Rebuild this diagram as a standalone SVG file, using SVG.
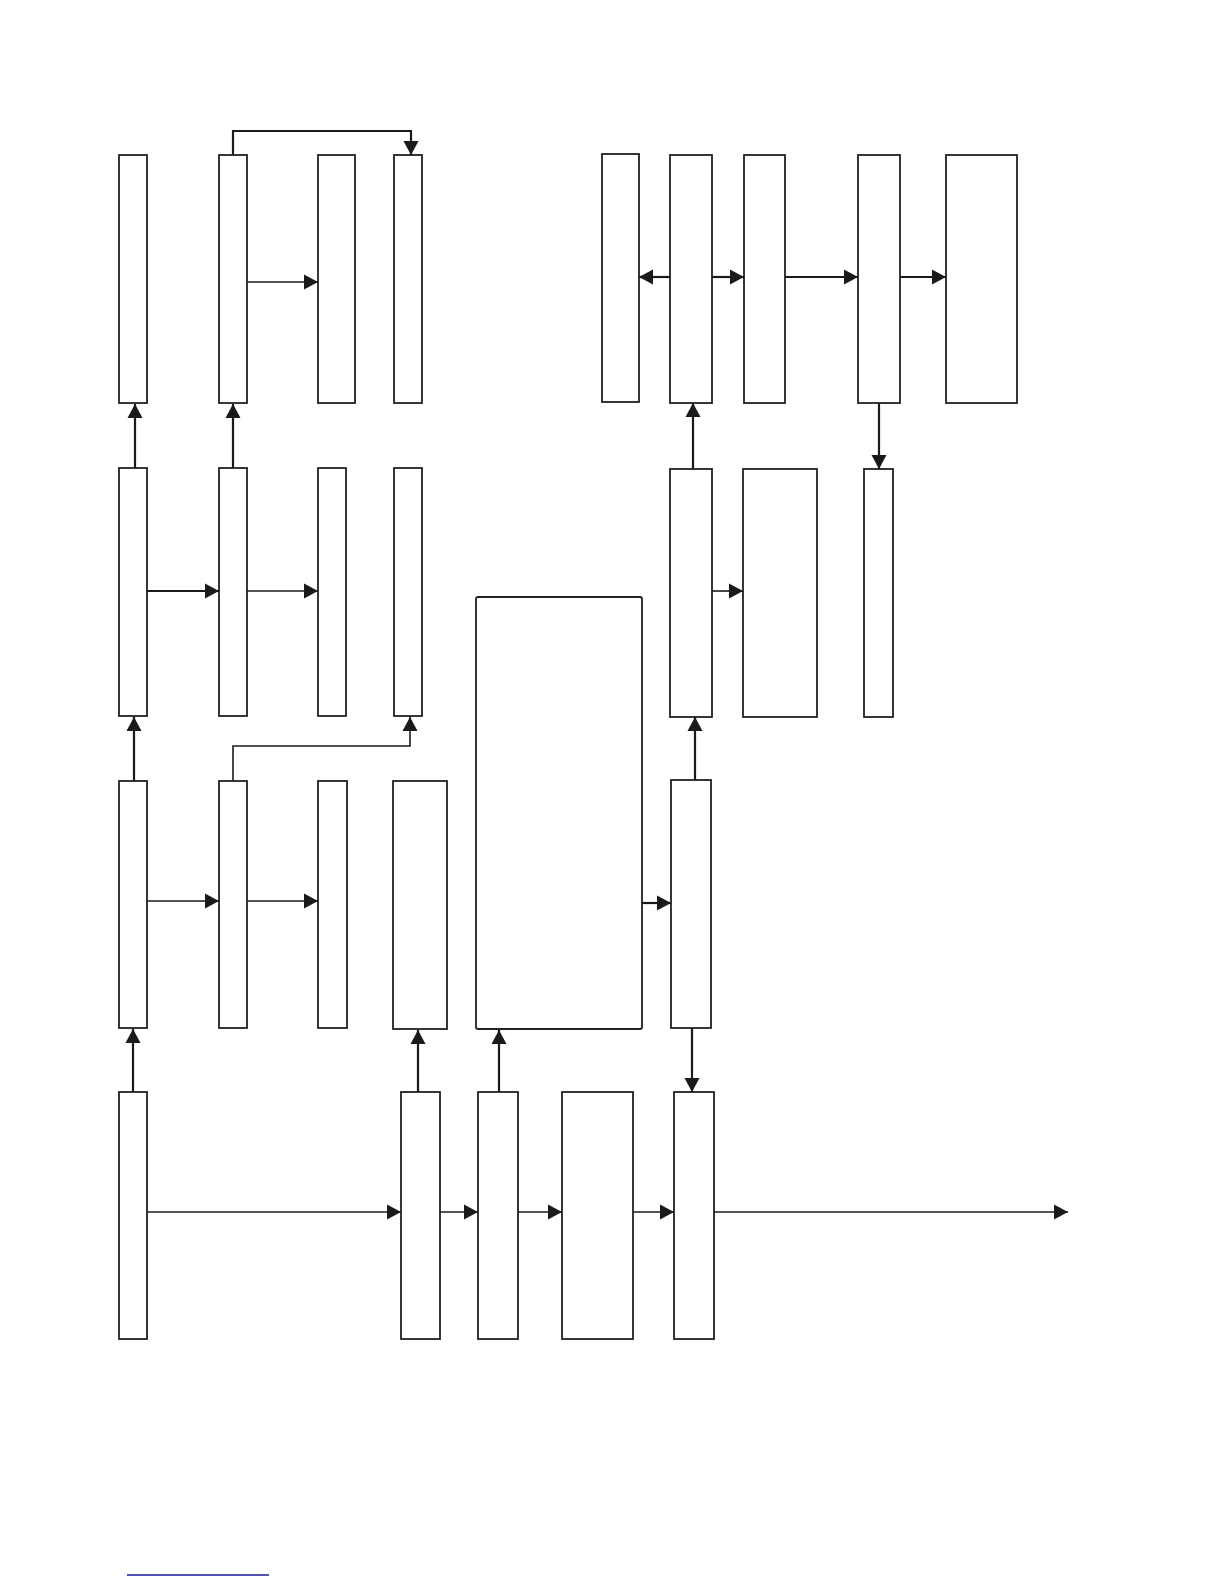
<svg xmlns="http://www.w3.org/2000/svg" width="1224" height="1584" viewBox="0 0 1224 1584">
<style>
.n{fill:#fff;stroke:#222;stroke-width:1.8}
.c{fill:none;stroke:#1a1a1a;stroke-width:1.6}
.t{stroke-width:2.2}
.h{marker-end:url(#ah)}
</style>
<defs>
<marker id="ah" markerUnits="userSpaceOnUse" markerWidth="15" markerHeight="16" refX="14" refY="7.5" orient="auto" viewBox="0 0 15 15">
<path d="M0,0 L14,7.5 L0,15 z" fill="#1a1a1a"/>
</marker>
</defs>
<rect width="1224" height="1584" fill="#fff"/>
<g id="nodes">
<g id="A1"><rect class="n" x="119" y="155" width="28" height="248"/></g>
<g id="B1"><rect class="n" x="219" y="155" width="28" height="248"/></g>
<g id="C1"><rect class="n" x="318" y="155" width="37" height="248"/></g>
<g id="D1"><rect class="n" x="394" y="155" width="28" height="248"/></g>
<g id="P1"><rect class="n" x="602" y="154" width="37" height="248"/></g>
<g id="F1"><rect class="n" x="670" y="155" width="42" height="248"/></g>
<g id="Q1"><rect class="n" x="744" y="155" width="41" height="248"/></g>
<g id="R1"><rect class="n" x="858" y="155" width="42" height="248"/></g>
<g id="S1"><rect class="n" x="946" y="155" width="71" height="248"/></g>
<g id="A2"><rect class="n" x="119" y="468" width="28" height="248"/></g>
<g id="B2"><rect class="n" x="219" y="468" width="28" height="248"/></g>
<g id="C2"><rect class="n" x="318" y="468" width="28" height="248"/></g>
<g id="D2"><rect class="n" x="394" y="468" width="28" height="248"/></g>
<g id="F2"><rect class="n" x="670" y="469" width="42" height="248"/></g>
<g id="G2"><rect class="n" x="743" y="469" width="74" height="248"/></g>
<g id="H2"><rect class="n" x="864" y="469" width="29" height="248"/></g>
<g id="A3"><rect class="n" x="119" y="781" width="28" height="247"/></g>
<g id="B3"><rect class="n" x="219" y="781" width="28" height="247"/></g>
<g id="C3"><rect class="n" x="318" y="781" width="29" height="247"/></g>
<g id="D3"><rect class="n" x="393" y="781" width="54" height="248"/></g>
<g id="E"><rect class="n" x="476" y="597" width="166" height="432" rx="2"/></g>
<g id="F3"><rect class="n" x="671" y="780" width="40" height="248"/></g>
<g id="A4"><rect class="n" x="119" y="1092" width="28" height="247"/></g>
<g id="I4"><rect class="n" x="401" y="1092" width="39" height="247"/></g>
<g id="J4"><rect class="n" x="478" y="1092" width="40" height="247"/></g>
<g id="K4"><rect class="n" x="562" y="1092" width="71" height="247"/></g>
<g id="F4"><rect class="n" x="674" y="1092" width="40" height="247"/></g>
</g>
<g id="connectors">
<path class="c t h" d="M133,1092 V1029"/>
<path class="c t h" d="M134,781 V717"/>
<path class="c t h" d="M135,468 V404"/>
<path class="c t h" d="M233,468 V404"/>
<path class="c t h" d="M233,155 V131 H411 V155"/>
<path class="c h" d="M247,282 H318"/>
<path class="c t h" d="M147,591 H219"/>
<path class="c h" d="M247,591 H318"/>
<path class="c h" d="M233,781 V746 H410 V717"/>
<path class="c h" d="M147,901 H219"/>
<path class="c h" d="M247,901 H318"/>
<path class="c t h" d="M418,1092 V1030"/>
<path class="c t h" d="M499,1092 V1030"/>
<path class="c h" d="M147,1212 H401"/>
<path class="c h" d="M440,1212 H478"/>
<path class="c h" d="M518,1212 H562"/>
<path class="c h" d="M633,1212 H674"/>
<path class="c h" d="M714,1212 H1068"/>
<path class="c t h" d="M692,1028 V1092"/>
<path class="c t h" d="M642,903 H671"/>
<path class="c t h" d="M695,780 V717"/>
<path class="c h" d="M712,591 H743"/>
<path class="c t h" d="M693,469 V403"/>
<path class="c t h" d="M670,277 H639"/>
<path class="c t h" d="M712,277 H744"/>
<path class="c t h" d="M785,277 H858"/>
<path class="c t h" d="M900,277 H946"/>
<path class="c t h" d="M879,403 V469"/>
</g>
<line x1="127" y1="1575" x2="269" y2="1575" stroke="#1a1a9c" stroke-width="1.5"/>
</svg>
